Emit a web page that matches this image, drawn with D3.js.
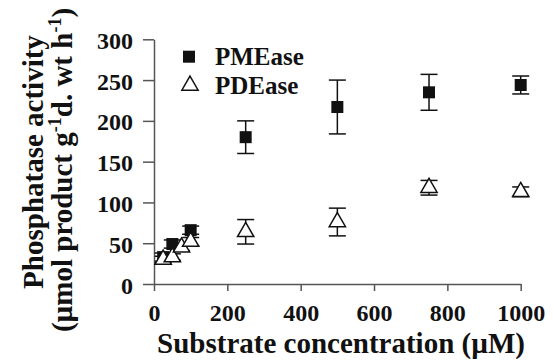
<!DOCTYPE html>
<html>
<head>
<meta charset="utf-8">
<script src="https://cdn.jsdelivr.net/npm/d3@7"></script>
<style>
  body { margin: 0; background: #fff; }
</style>
</head>
<body>
<div id="chart"></div>
<script>
const pmeX = [25, 50, 100, 250, 500, 750, 1000];
const pmeY = [33, 49, 66, 180, 217, 235, 244];
const pmeErr = [5, 5, 5, 20, 33, 22, 11];

const pdeX = [25, 50, 75, 100, 250, 500, 750, 1000];
const pdeY = [30, 33, 45, 52, 64, 76, 118, 113];
const pdeErr = [4, 4, 4, 5, 15, 17, 9, 6];

const xTicks = [0, 200, 400, 600, 800, 1000];
const yTicks = [0, 50, 100, 150, 200, 250, 300];
const legendLabels = ["PMEase", "PDEase"];

const width = 554, height = 360;
const serif = "Liberation Serif";

const svg = d3.select("#chart").append("svg")
  .attr("width", width)
  .attr("height", height);

const x = d3.scaleLinear().domain([0, 1000]).range([154, 520.7]);
const y = d3.scaleLinear().domain([0, 300]).range([284, 39.3]);

// axes
const xAxis = svg.append("g")
  .attr("transform", `translate(0, ${y(0)})`)
  .call(d3.axisBottom(x).tickValues(xTicks).tickFormat(d3.format("d"))
    .tickSize(7).tickPadding(8).tickSizeOuter(0));
const yAxis = svg.append("g")
  .attr("transform", `translate(${x(0)}, 0)`)
  .call(d3.axisLeft(y).tickValues(yTicks).tickFormat(d3.format("d"))
    .tickSize(11).tickPadding(10).tickSizeOuter(0));

[xAxis, yAxis].forEach((g) => {
  g.attr("font-family", serif).attr("font-size", 24).attr("font-weight", "bold");
  g.select(".domain").attr("stroke", "#555").attr("stroke-width", 1.5);
  g.selectAll(".tick line").attr("stroke", "#555").attr("stroke-width", 1.5);
  g.selectAll(".tick text")
    .attr("font-family", serif)
    .attr("font-weight", "bold")
    .attr("font-size", 24)
    .attr("fill", "#111");
});
xAxis.selectAll(".tick text").attr("dy", "0.9em");
yAxis.selectAll(".tick text").attr("dy", "0.38em");

function label(sel, size) {
  return sel.attr("font-family", serif).attr("font-weight", "bold")
    .attr("font-size", size).attr("fill", "#111");
}

// axis titles
svg.append("text")
  .call(label, 29)
  .attr("x", 341)
  .attr("y", 353)
  .attr("text-anchor", "middle")
  .text("Substrate concentration (\u00b5M)");

svg.append("text")
  .call(label, 29)
  .attr("transform", "translate(43, 162) rotate(-90)")
  .attr("text-anchor", "middle")
  .text("Phosphatase activity");

const t2 = svg.append("text")
  .call(label, 29)
  .attr("transform", "translate(72, 170) rotate(-90)")
  .attr("text-anchor", "middle");
t2.append("tspan").text("(\u00b5mol product g");
t2.append("tspan").attr("dy", -11).attr("font-size", 18).text("-1");
t2.append("tspan").attr("dy", 11).text("d. wt h");
t2.append("tspan").attr("dy", -11).attr("font-size", 18).text("-1");
t2.append("tspan").attr("dy", 11).text(")");

const pme = pmeX.map((d, i) => ({ x: d, y: pmeY[i], e: pmeErr[i] }));
const pde = pdeX.map((d, i) => ({ x: d, y: pdeY[i], e: pdeErr[i] }));

function errorBars(data) {
  const g = svg.append("g").attr("stroke", "#111").attr("stroke-width", 1.5);
  g.selectAll("line.v").data(data).join("line").attr("class", "v")
    .attr("x1", (d) => x(d.x)).attr("x2", (d) => x(d.x))
    .attr("y1", (d) => y(d.y - d.e)).attr("y2", (d) => y(d.y + d.e));
  g.selectAll("line.top").data(data).join("line").attr("class", "top")
    .attr("x1", (d) => x(d.x) - 8.5).attr("x2", (d) => x(d.x) + 8.5)
    .attr("y1", (d) => y(d.y + d.e)).attr("y2", (d) => y(d.y + d.e));
  g.selectAll("line.bot").data(data).join("line").attr("class", "bot")
    .attr("x1", (d) => x(d.x) - 8.5).attr("x2", (d) => x(d.x) + 8.5)
    .attr("y1", (d) => y(d.y - d.e)).attr("y2", (d) => y(d.y - d.e));
}

const square = d3.symbol().type(d3.symbolSquare).size(144);
const triangle = d3.symbol().type(d3.symbolTriangle).size(115);

// PMEase
errorBars(pme);
svg.append("g").selectAll("path").data(pme).join("path")
  .attr("d", square)
  .attr("transform", (d) => `translate(${x(d.x)}, ${y(d.y)})`)
  .attr("fill", "#111");

// PDEase drawn on top
errorBars(pde);
svg.append("g").selectAll("path").data(pde).join("path")
  .attr("d", triangle)
  .attr("transform", (d) => `translate(${x(d.x)}, ${y(d.y)})`)
  .attr("fill", "#fff")
  .attr("stroke", "#111")
  .attr("stroke-width", 1.5);

// legend
const legend = svg.append("g");
legend.append("path")
  .attr("d", square)
  .attr("transform", "translate(189, 56.7)")
  .attr("fill", "#111");
legend.append("path")
  .attr("d", triangle)
  .attr("transform", "translate(190, 85.5)")
  .attr("fill", "#fff")
  .attr("stroke", "#111")
  .attr("stroke-width", 1.5);
legend.selectAll("text").data(legendLabels).join("text")
  .call(label, 25)
  .attr("x", 215)
  .attr("y", (d, i) => 65 + i * 29)
  .text((d) => d);
</script>
</body>
</html>
